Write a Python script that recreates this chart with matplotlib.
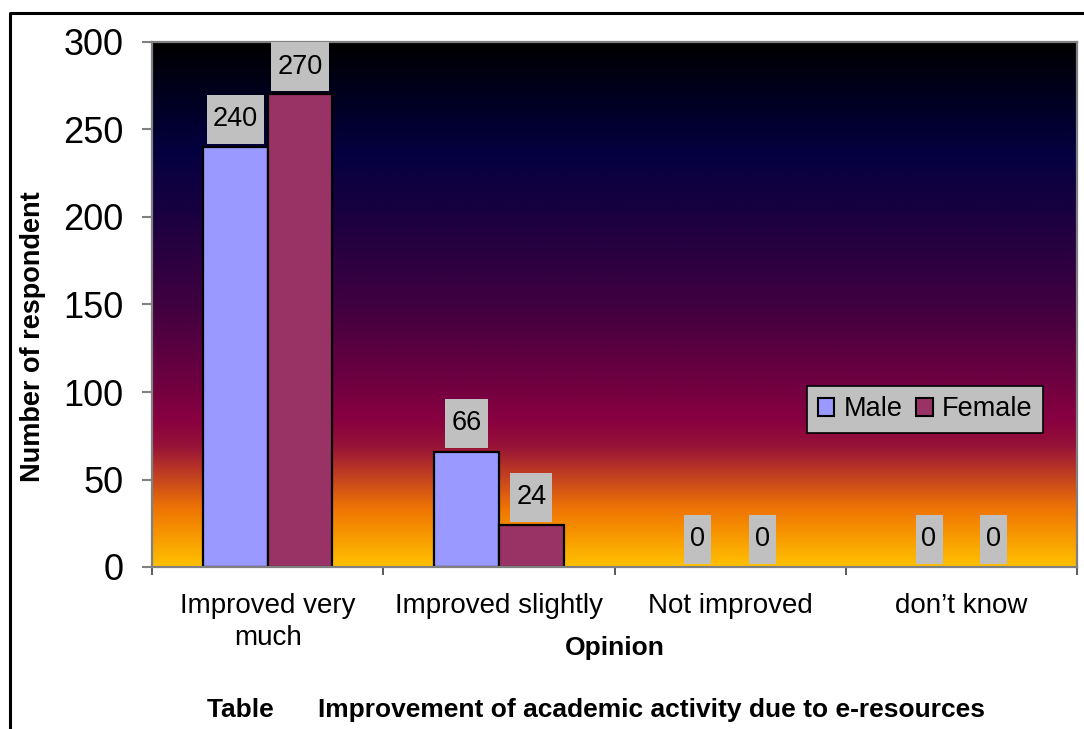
import numpy as np
import matplotlib
matplotlib.use("Agg")
import matplotlib.pyplot as plt
from matplotlib.colors import LinearSegmentedColormap
from matplotlib.patches import Patch, Rectangle
from matplotlib.lines import Line2D

plt.rcParams['font.family'] = ['Liberation Sans', 'DejaVu Sans']

categories = ["Improved very\nmuch", "Improved slightly", "Not improved", "don\u2019t know"]
male = [240, 66, 0, 0]
female = [270, 24, 0, 0]
series_names = ["Male", "Female"]
y_ticks = [0, 50, 100, 150, 200, 250, 300]

male_color = "#9999FF"
female_color = "#993366"
label_box_color = "#C0C0C0"

W, H = 1084, 729
fig = plt.figure(figsize=(W / 100, H / 100), dpi=100)
ax = fig.add_axes([152 / W, 1 - 567 / H, (1077 - 152) / W, (567 - 42) / H])

# vertical gradient behind the plot area (bottom -> top)
grad_colors = [
    (0.00, "#FFC000"),
    (0.07, "#F69000"),
    (0.11, "#EE7404"),
    (0.17, "#C44220"),
    (0.23, "#961238"),
    (0.28, "#880040"),
    (0.36, "#6C0040"),
    (0.49, "#420040"),
    (0.66, "#1C0040"),
    (0.79, "#040040"),
    (0.89, "#000022"),
    (1.00, "#000000"),
]
cmap = LinearSegmentedColormap.from_list("bg", grad_colors)
grad = np.linspace(0, 1, 512).reshape(-1, 1)
ax.imshow(grad, cmap=cmap, origin="lower", aspect="auto",
          extent=[-0.5, 3.5, 0, 300], zorder=0, interpolation="bilinear")

x = np.arange(len(categories))
bw = 0.28
off = 0.14
ax.bar(x - off, male, bw, color=male_color, edgecolor="black",
       linewidth=[1.6 if v > 0 else 0 for v in male], zorder=2)
ax.bar(x + off, female, bw, color=female_color, edgecolor="black",
       linewidth=[1.6 if v > 0 else 0 for v in female], zorder=2)

ax.set_xlim(-0.5, 3.5)
ax.set_ylim(0, 300)

for s in ax.spines.values():
    s.set_color("#808080")
    s.set_linewidth(1.6)
    s.set_zorder(3)

ax.set_yticks(y_ticks)
ax.set_yticklabels([str(v) for v in y_ticks], fontsize=26)
ax.tick_params(axis="y", direction="out", length=7.5, width=1.5, color="#808080", pad=13)

ax.set_xticks(x)
ax.set_xticklabels(categories, fontsize=20, linespacing=1.28)
ax.tick_params(axis="x", which="major", length=0, pad=19)
ax.set_xticks(np.arange(-0.5, 4.0, 1.0), minor=True)
ax.tick_params(axis="x", which="minor", direction="out", length=6, width=1.2, color="#404040")

fig.text(615 / W, 1 - 648 / H, "Opinion", ha="center", va="center",
         fontsize=19, fontweight="bold")

fig.text(33 / W, 1 - 337 / H, "Number of respondent", rotation=90,
         ha="center", va="center", fontsize=19.5, fontweight="bold")

# value labels on grey boxes above each bar
texts = []
for xs, vals in ((x - off, male), (x + off, female)):
    for xi, v in zip(xs, vals):
        t = ax.text(xi, v + 16, str(v), ha="center", va="center", fontsize=19.5,
                    color="black", zorder=5)
        texts.append((t, xi, v))

fig.canvas.draw()
inv = ax.transData.inverted()
for t, xi, v in texts:
    bb = t.get_window_extent()
    (x0, _), (x1, _) = inv.transform([(bb.x0 - 6, 0), (bb.x1 + 6, 0)])
    ax.add_patch(Rectangle((x0, v + 2), x1 - x0, 28, facecolor=label_box_color,
                           edgecolor="none", zorder=4))

handles = [Patch(facecolor=male_color, edgecolor="black", linewidth=1.5),
           Patch(facecolor=female_color, edgecolor="black", linewidth=1.5)]
leg = ax.legend(handles, series_names, loc="center",
                bbox_to_anchor=(0.836, 0.30), ncol=2, fontsize=19.5,
                handlelength=0.6, handleheight=0.6, handletextpad=0.35,
                columnspacing=0.5, borderpad=0.4, frameon=True, fancybox=False)
leg.get_frame().set_facecolor(label_box_color)
leg.get_frame().set_edgecolor("black")
leg.get_frame().set_linewidth(1.2)
leg.get_frame().set_alpha(1)
leg.set_zorder(6)

fig.text(596 / W, 1 - 710 / H,
         "Table      Improvement of academic activity due to e-resources",
         ha="center", va="center", fontsize=19, fontweight="bold")

# outer frame of the chart object
fig.add_artist(Line2D([10 / W, 10 / W, 1.0], [0.0, 1 - 13 / H, 1 - 13 / H],
                      transform=fig.transFigure, color="black", linewidth=2.2))

fig.savefig("out.png", dpi=100)
